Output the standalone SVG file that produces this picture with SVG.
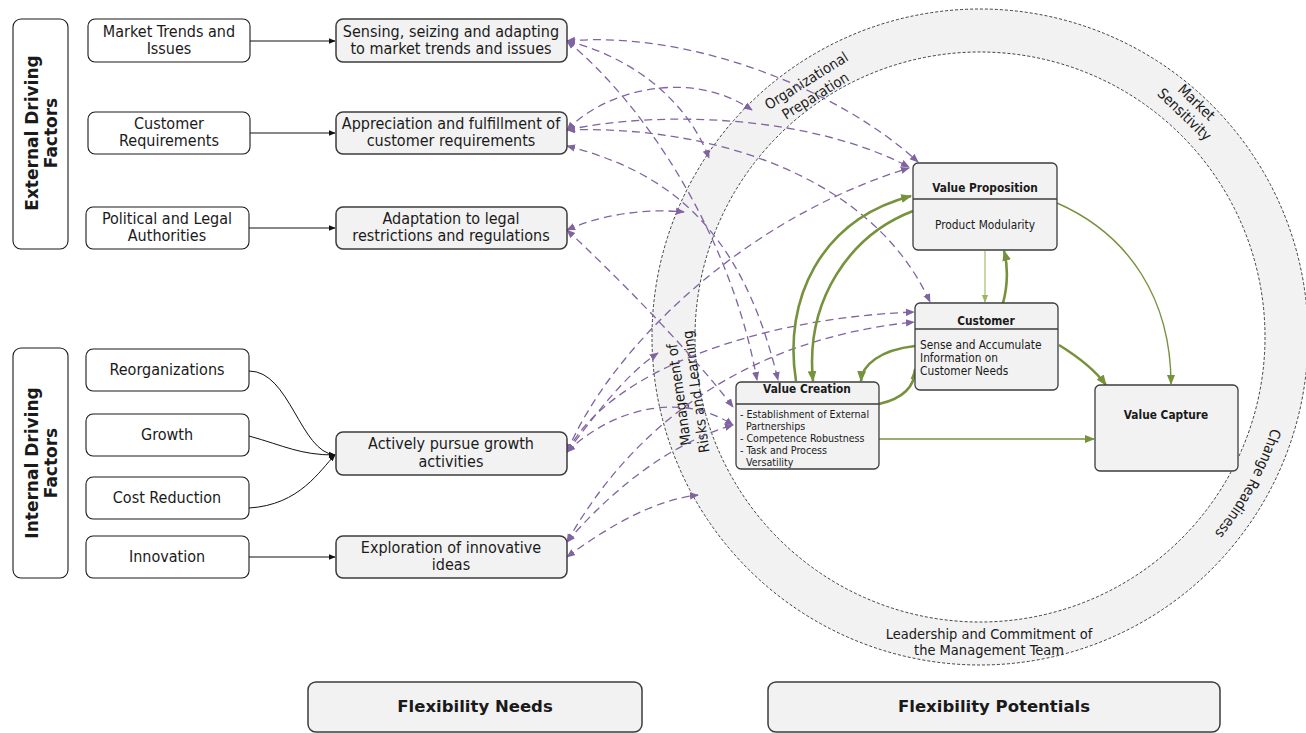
<svg xmlns="http://www.w3.org/2000/svg" width="1306" height="733" viewBox="0 0 1306 733">
  <style>
    .t { font-family: "DejaVu Sans Condensed", "DejaVu Sans", sans-serif; font-stretch: condensed; fill: #1a1a1a; }
    .lbl { font-size: 16px; text-anchor: middle; }
    .side { font-family: "DejaVu Sans", sans-serif; font-size: 17px; font-weight: bold; text-anchor: middle; fill: #1a1a1a; }
    .ring-t { font-size: 14.5px; text-anchor: middle; }
    .hd { font-size: 11.8px; font-weight: bold; text-anchor: middle; }
    .bd { font-size: 11.8px; }
    .bd-s { font-size: 10.6px; }
    .foot { font-family: "DejaVu Sans", sans-serif; font-size: 16.5px; font-weight: bold; text-anchor: middle; fill: #1a1a1a; }
    .box-w { fill: #fff; stroke: #1a1a1a; stroke-width: 1.1; }
    .box-g { fill: #f2f2f2; stroke: #3c3c3c; stroke-width: 1.5; }
    .box-v { fill: #f2f2f2; stroke: #3c3c3c; stroke-width: 1.3; }
    .sep { stroke: #3c3c3c; stroke-width: 1.3; }
    .k { fill: none; stroke: #111; stroke-width: 1; marker-end: url(#ah-k); }
    .p { fill: none; stroke: #8064a2; stroke-width: 1.3; stroke-dasharray: 8 5; marker-start: url(#ah-p); marker-end: url(#ah-p); }
    .g1 { fill: none; stroke: #76923c; stroke-width: 2.6; marker-end: url(#ah-g); }
    .g2 { fill: none; stroke: #76923c; stroke-width: 1.4; marker-end: url(#ah-g2); }
    .g3 { fill: none; stroke: #9bb563; stroke-width: 1.1; marker-end: url(#ah-g3); }
    .rim { fill: none; stroke: #111; stroke-width: 0.8; stroke-dasharray: 3 2; }
  </style>
  <defs>
    <marker id="ah-k" viewBox="0 0 10 10" refX="9" refY="5" markerWidth="7" markerHeight="7" markerUnits="userSpaceOnUse" orient="auto-start-reverse">
      <path d="M0,1 L10,5 L0,9 z" fill="#111"/>
    </marker>
    <marker id="ah-p" viewBox="0 0 10 10" refX="9" refY="5" markerWidth="9" markerHeight="9" markerUnits="userSpaceOnUse" orient="auto-start-reverse">
      <path d="M0,1 L10,5 L0,9 z" fill="#8064a2"/>
    </marker>
    <marker id="ah-g" viewBox="0 0 10 10" refX="9" refY="5" markerWidth="11" markerHeight="11" markerUnits="userSpaceOnUse" orient="auto">
      <path d="M0,1 L10,5 L0,9 z" fill="#76923c"/>
    </marker>
    <marker id="ah-g2" viewBox="0 0 10 10" refX="9" refY="5" markerWidth="10" markerHeight="10" markerUnits="userSpaceOnUse" orient="auto">
      <path d="M0,1 L10,5 L0,9 z" fill="#76923c"/>
    </marker>
    <marker id="ah-g3" viewBox="0 0 10 10" refX="9" refY="5" markerWidth="8" markerHeight="8" markerUnits="userSpaceOnUse" orient="auto">
      <path d="M0,1 L10,5 L0,9 z" fill="#9bb563"/>
    </marker>
    <path id="arc-cr" d="M 1279 277 A 306 306 0 0 1 1092 622"/>
  </defs>

  <rect width="1306" height="733" fill="#fff"/>

  <!-- capability ring -->
  <g id="ring">
    <circle cx="980" cy="337" r="306.5" fill="none" stroke="#f2f2f2" stroke-width="43"/>
    <circle class="rim" cx="980" cy="337" r="328"/>
    <circle class="rim" cx="980" cy="337" r="285"/>
    <text class="t ring-t" transform="translate(809,85) rotate(-32)">Organizational</text>
    <text class="t ring-t" transform="translate(818,100) rotate(-32)">Preparation</text>
    <text class="t ring-t" transform="translate(1193,106) rotate(44)">Market</text>
    <text class="t ring-t" transform="translate(1181,118) rotate(44)">Sensitivity</text>
    <text class="t ring-t" transform="translate(684,394) rotate(-98)">Management of</text>
    <text class="t ring-t" transform="translate(701,391) rotate(-98)">Risks and Learning</text>
    <text class="t ring-t"><textPath href="#arc-cr" startOffset="50%">Change Readiness</textPath></text>
    <text class="t ring-t" x="989" y="639">Leadership and Commitment of</text>
    <text class="t ring-t" x="989" y="655">the Management Team</text>
  </g>

  <!-- connectors -->
  <g id="connectors">
    <!-- driving factors to needs -->
    <path class="k" d="M 250 41 L 335 41"/>
    <path class="k" d="M 250 133 L 335 133"/>
    <path class="k" d="M 249 228 L 335 228"/>
    <path class="k" d="M 249 371 C 290 371, 300 452, 335 455"/>
    <path class="k" d="M 249 436 C 285 446, 300 455, 335 455"/>
    <path class="k" d="M 249 508 C 300 505, 320 470, 335 455"/>
    <path class="k" d="M 249 557 L 335 557"/>

    <!-- needs to potentials -->
    <path class="p" d="M 567 41 C 690 30, 840 90, 918 162"/>
    <path class="p" d="M 567 41 C 625 55, 685 95, 709 158"/>
    <path class="p" d="M 567 41 C 640 100, 730 230, 757 380"/>
    <path class="p" d="M 567 130 C 605 90, 690 68, 752 110"/>
    <path class="p" d="M 567 130 C 660 110, 810 115, 909 167"/>
    <path class="p" d="M 567 130 C 700 125, 870 170, 930 302"/>
    <path class="p" d="M 567 146 C 660 170, 740 220, 778 380"/>
    <path class="p" d="M 567 230 C 600 215, 645 208, 684 212"/>
    <path class="p" d="M 567 230 C 610 270, 690 350, 733 407"/>
    <path class="p" d="M 567 452 C 595 415, 625 375, 658 353"/>
    <path class="p" d="M 567 452 C 610 350, 740 220, 909 168"/>
    <path class="p" d="M 567 452 C 610 370, 760 318, 914 312"/>
    <path class="p" d="M 567 452 C 610 410, 680 390, 733 425"/>
    <path class="p" d="M 567 542 C 630 430, 740 340, 914 322"/>
    <path class="p" d="M 567 542 C 620 480, 680 440, 733 425"/>
    <path class="p" d="M 567 557 C 610 525, 655 500, 698 495"/>

    <!-- business model links -->
    <path class="g1" d="M 796 381 C 783 300, 820 220, 911 196"/>
    <path class="g1" d="M 913 211 C 850 235, 805 300, 813 381"/>
    <path class="g3" d="M 985 251 L 985 302"/>
    <path class="g1" d="M 1003 303 C 1008 285, 1008 265, 1004 251"/>
    <path class="g2" d="M 1057 203 C 1130 235, 1171 300, 1171 384"/>
    <path class="g1" d="M 915 346 C 880 350, 862 365, 861 381"/>
    <path class="g1" d="M 879 404 C 905 398, 915 385, 915 369"/>
    <path class="g1" d="M 1059 345 C 1080 358, 1095 370, 1106 385"/>
    <path class="g2" d="M 879 439 L 1094 439"/>
  </g>

  <!-- side headings -->
  <g id="external-factors">
    <rect class="box-w" x="13" y="19" width="55" height="230" rx="8"/>
    <text class="side" transform="translate(38,133) rotate(-90)">External Driving</text>
    <text class="side" transform="translate(57,133) rotate(-90)">Factors</text>
  </g>
  <g id="internal-factors">
    <rect class="box-w" x="13" y="348" width="55" height="230" rx="8"/>
    <text class="side" transform="translate(38,463) rotate(-90)">Internal Driving</text>
    <text class="side" transform="translate(57,463) rotate(-90)">Factors</text>
  </g>

  <!-- driving factors -->
  <g id="market-trends">
    <rect class="box-w" x="88" y="19" width="162" height="43" rx="7"/>
    <text class="t lbl" x="169" y="37">Market Trends and</text>
    <text class="t lbl" x="169" y="54">Issues</text>
  </g>
  <g id="customer-requirements">
    <rect class="box-w" x="88" y="112" width="162" height="42" rx="7"/>
    <text class="t lbl" x="169" y="129">Customer</text>
    <text class="t lbl" x="169" y="146">Requirements</text>
  </g>
  <g id="political-legal">
    <rect class="box-w" x="86" y="207" width="163" height="42" rx="7"/>
    <text class="t lbl" x="167" y="224">Political and Legal</text>
    <text class="t lbl" x="167" y="241">Authorities</text>
  </g>
  <g id="reorganizations">
    <rect class="box-w" x="86" y="349" width="163" height="42" rx="7"/>
    <text class="t lbl" x="167" y="375">Reorganizations</text>
  </g>
  <g id="growth">
    <rect class="box-w" x="86" y="414" width="163" height="42" rx="7"/>
    <text class="t lbl" x="167" y="440">Growth</text>
  </g>
  <g id="cost-reduction">
    <rect class="box-w" x="86" y="477" width="163" height="42" rx="7"/>
    <text class="t lbl" x="167" y="503">Cost Reduction</text>
  </g>
  <g id="innovation">
    <rect class="box-w" x="86" y="536" width="163" height="42" rx="7"/>
    <text class="t lbl" x="167" y="562">Innovation</text>
  </g>

  <!-- flexibility needs -->
  <g id="need-market">
    <rect class="box-g" x="336" y="19" width="231" height="43" rx="7"/>
    <text class="t lbl" x="451" y="37">Sensing, seizing and adapting</text>
    <text class="t lbl" x="451" y="54">to market trends and issues</text>
  </g>
  <g id="need-customer">
    <rect class="box-g" x="336" y="112" width="231" height="42" rx="7"/>
    <text class="t lbl" x="451" y="129">Appreciation and fulfillment of</text>
    <text class="t lbl" x="451" y="146">customer requirements</text>
  </g>
  <g id="need-legal">
    <rect class="box-g" x="336" y="207" width="231" height="42" rx="7"/>
    <text class="t lbl" x="451" y="224">Adaptation to legal</text>
    <text class="t lbl" x="451" y="241">restrictions and regulations</text>
  </g>
  <g id="need-growth">
    <rect class="box-g" x="336" y="432" width="231" height="43" rx="7"/>
    <text class="t lbl" x="451" y="449">Actively pursue growth</text>
    <text class="t lbl" x="451" y="467">activities</text>
  </g>
  <g id="need-innovation">
    <rect class="box-g" x="336" y="536" width="231" height="42" rx="7"/>
    <text class="t lbl" x="451" y="553">Exploration of innovative</text>
    <text class="t lbl" x="451" y="570">ideas</text>
  </g>

  <!-- business model elements -->
  <g id="value-proposition">
    <rect class="box-v" x="913" y="163" width="144" height="87" rx="5"/>
    <line class="sep" x1="913" y1="199" x2="1057" y2="199"/>
    <text class="t hd" x="985" y="192">Value Proposition</text>
    <text class="t bd" x="985" y="229" text-anchor="middle">Product Modularity</text>
  </g>
  <g id="customer">
    <rect class="box-v" x="915" y="303" width="143" height="87" rx="5"/>
    <line class="sep" x1="915" y1="329" x2="1058" y2="329"/>
    <text class="t hd" x="986" y="325">Customer</text>
    <text class="t bd" x="920" y="349">Sense and Accumulate</text>
    <text class="t bd" x="920" y="362">Information on</text>
    <text class="t bd" x="920" y="375">Customer Needs</text>
  </g>
  <g id="value-creation">
    <rect class="box-v" x="736" y="382" width="143" height="87" rx="5"/>
    <line class="sep" x1="736" y1="404" x2="879" y2="404"/>
    <text class="t hd" x="807" y="393">Value Creation</text>
    <text class="t bd-s" x="740" y="418">- Establishment of External</text>
    <text class="t bd-s" x="746" y="430">Partnerships</text>
    <text class="t bd-s" x="740" y="442">- Competence Robustness</text>
    <text class="t bd-s" x="740" y="454">- Task and Process</text>
    <text class="t bd-s" x="746" y="466">Versatility</text>
  </g>
  <g id="value-capture">
    <rect class="box-v" x="1095" y="385" width="143" height="86" rx="5"/>
    <text class="t hd" x="1166" y="419">Value Capture</text>
  </g>

  <!-- column captions -->
  <g id="flexibility-needs">
    <rect class="box-g" x="308" y="682" width="334" height="50" rx="8"/>
    <text class="foot" x="475" y="712">Flexibility Needs</text>
  </g>
  <g id="flexibility-potentials">
    <rect class="box-g" x="768" y="682" width="452" height="50" rx="8"/>
    <text class="foot" x="994" y="712">Flexibility Potentials</text>
  </g>
</svg>
